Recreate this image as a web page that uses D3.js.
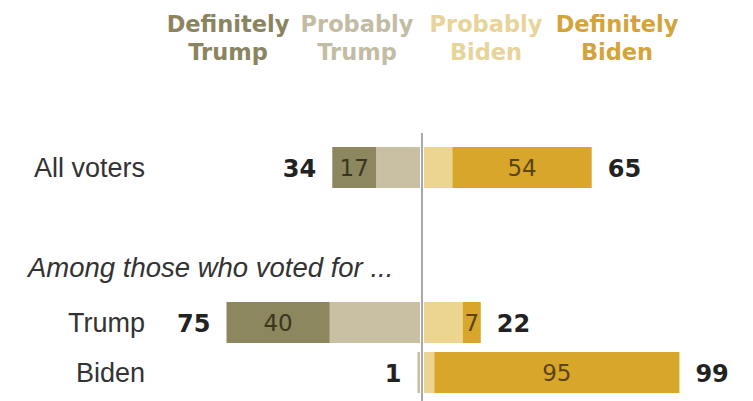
<!DOCTYPE html>
<html>
<head>
<meta charset="utf-8">
<script src="https://cdn.jsdelivr.net/npm/d3@7"></script>
<style>
  html, body { margin: 0; padding: 0; background: #fff; }
  svg { display: block; }
</style>
</head>
<body>
<svg id="chart" width="753" height="401"></svg>
<script>
// Row groups and the share of each answer (percent)
const groups       = ["All voters", "Trump", "Biden"];
const defTrump     = [17, 40, 0];
const probTrump    = [17, 35, 1];
const probBiden    = [11, 15, 4];
const defBiden     = [54, 7, 95];
const totalTrump   = [34, 75, 1];
const totalBiden   = [65, 22, 99];

// Legend headers
const legendLines = [
  ["Definitely", "Trump"],
  ["Probably", "Trump"],
  ["Probably", "Biden"],
  ["Definitely", "Biden"]
];
const subheading = "Among those who voted for ...";

const colors = ["#8d8760", "#c9c0a3", "#ecd590", "#d9a62c"];
const legendColors = ["#8a8460", "#c3bca5", "#e7d49a", "#d4a43a"];
const innerTextColors = ["#3a361e", "#3a361e", "#5a4410", "#5a4410"];

const svg = d3.select("#chart");
const center = 422;
const gap = 2;

// Length scale for bar segments (percent -> pixels)
const len = d3.scaleLinear().domain([0, 100]).range([0, 258]);

// Vertical placement of each row (bar top)
const yTop = d3.scaleOrdinal().domain(groups).range([147, 302, 352]);
const barH = 41;

// Legend position per column
const legendX = d3.scaleOrdinal().domain(d3.range(4)).range([228, 357, 486, 617]);

// Build segments: trump side grows left from the center, biden side right
const segments = [];
groups.forEach((g, i) => {
  // Trump side: probably next to center, definitely outside
  segments.push({ g, k: 1, x0: center - gap - len(probTrump[i]), w: len(probTrump[i]), v: probTrump[i] });
  segments.push({ g, k: 0, x0: center - gap - len(probTrump[i]) - len(defTrump[i]), w: len(defTrump[i]), v: defTrump[i] });
  // Biden side
  segments.push({ g, k: 2, x0: center + gap, w: len(probBiden[i]), v: probBiden[i] });
  segments.push({ g, k: 3, x0: center + gap + len(probBiden[i]), w: len(defBiden[i]), v: defBiden[i] });
});

svg.append("g").selectAll("rect")
  .data(segments.filter(d => d.v > 0))
  .join("rect")
  .attr("x", d => d.x0)
  .attr("y", d => yTop(d.g))
  .attr("width", d => d.w)
  .attr("height", barH)
  .attr("fill", d => colors[d.k]);

// Value labels inside the "definitely" segments
svg.append("g").selectAll("text")
  .data(segments.filter(d => (d.k === 0 || d.k === 3) && d.v > 0))
  .join("text")
  .attr("x", d => d.x0 + d.w / 2)
  .attr("y", d => yTop(d.g) + barH / 2 + 8)
  .attr("text-anchor", "middle")
  .attr("font-family", "DejaVu Sans, sans-serif")
  .attr("font-size", 23)
  .attr("fill", d => innerTextColors[d.k])
  .text(d => d.v);

// Net totals on each side
const totals = svg.append("g")
  .attr("font-family", "DejaVu Sans, sans-serif")
  .attr("font-weight", "bold")
  .attr("font-size", 24)
  .attr("fill", "#222");

totals.selectAll("text.tl")
  .data(groups.map((g, i) => ({ g, v: totalTrump[i] })))
  .join("text")
  .attr("class", "tl")
  .attr("x", d => center - gap - len(d.v) - 16)
  .attr("y", d => yTop(d.g) + barH / 2 + 9)
  .attr("text-anchor", "end")
  .text(d => d.v);

totals.selectAll("text.tr")
  .data(groups.map((g, i) => ({ g, v: totalBiden[i] })))
  .join("text")
  .attr("class", "tr")
  .attr("x", d => center + gap + len(d.v) + 16)
  .attr("y", d => yTop(d.g) + barH / 2 + 9)
  .attr("text-anchor", "start")
  .text(d => d.v);

// Row labels
svg.append("g").selectAll("text")
  .data(groups)
  .join("text")
  .attr("x", 145)
  .attr("y", d => yTop(d) + barH / 2 + 9)
  .attr("text-anchor", "end")
  .attr("font-family", "Liberation Sans, Arial, sans-serif")
  .attr("font-size", 27)
  .attr("fill", "#333")
  .text(d => d);

svg.append("text")
  .attr("x", 28)
  .attr("y", 277)
  .attr("font-family", "Liberation Sans, Arial, sans-serif")
  .attr("font-size", 27.5)
  .attr("font-style", "italic")
  .attr("fill", "#333")
  .text(subheading);

// Center reference line
svg.append("line")
  .attr("x1", center).attr("x2", center)
  .attr("y1", 133).attr("y2", 401)
  .attr("stroke", "#a8a8a8")
  .attr("stroke-width", 2);

// Legend header
const legend = svg.append("g")
  .attr("font-family", "DejaVu Sans, sans-serif")
  .attr("font-weight", "bold")
  .attr("font-size", 22.5)
  .attr("text-anchor", "middle");

legendLines.forEach((lines, i) => {
  legend.append("text")
    .attr("x", legendX(i))
    .attr("y", 32)
    .attr("fill", legendColors[i])
    .text(lines[0]);
  legend.append("text")
    .attr("x", legendX(i))
    .attr("y", 60)
    .attr("fill", legendColors[i])
    .text(lines[1]);
});
</script>
</body>
</html>
